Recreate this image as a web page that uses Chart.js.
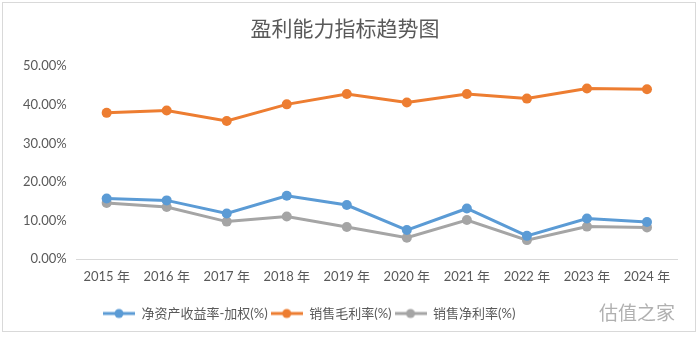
<!DOCTYPE html>
<html>
<head>
<meta charset="utf-8">
<script src="https://cdn.jsdelivr.net/npm/chart.js@4"></script>
<style>
  html, body { margin: 0; padding: 0; background: #fff; }
  .frame { position: absolute; left: 2px; top: 2px; width: 694px; height: 330px; border: 1px solid #d9d9d9; box-sizing: border-box; }
  .frame canvas { display: block; }
  .wm { position: absolute; left: 599px; top: 298px; font: 19px 'Noto Sans CJK SC'; color: rgba(150,150,150,0.75); }
</style>
</head>
<body>
<div class="frame"><canvas id="c" width="692" height="328"></canvas></div>
<div class="wm">估值之家</div>
<script>
const years = ['2015 年','2016 年','2017 年','2018 年','2019 年','2020 年','2021 年','2022 年','2023 年','2024 年'];
const roeWeighted = [15.7, 15.2, 11.8, 16.4, 14.0, 7.5, 13.1, 6.0, 10.5, 9.6];
const grossMargin = [37.9, 38.5, 35.8, 40.1, 42.8, 40.6, 42.8, 41.6, 44.2, 44.0];
const netMargin   = [14.5, 13.5, 9.7, 11.0, 8.3, 5.5, 10.1, 4.9, 8.4, 8.2];
const seriesNames = ['净资产收益率-加权(%)', '销售毛利率(%)', '销售净利率(%)'];
const colors = ['#5B9BD5', '#ED7D31', '#A5A5A5'];
const yTicks = [0, 10, 20, 30, 40, 50];

const FONT = "Lato, 'Noto Sans CJK SC', sans-serif";
const TXT = '#595959';

// legend glyph: short line with a dot, like the office style
function legendGlyph(color) {
  const cv = document.createElement('canvas');
  cv.width = 32; cv.height = 12;
  const g = cv.getContext('2d');
  g.strokeStyle = color; g.lineWidth = 3;
  g.beginPath(); g.moveTo(0, 6); g.lineTo(32, 6); g.stroke();
  g.fillStyle = color;
  g.beginPath(); g.arc(16, 6, 4.5, 0, Math.PI * 2); g.fill();
  return cv;
}

// nudge the legend row to the right, where the original sits
const legendShift = {
  id: 'legendShift',
  afterUpdate(chart) {
    chart.legend.left += 87;
    chart.legend.right += 87;
  }
};

const data = [roeWeighted, grossMargin, netMargin];

new Chart(document.getElementById('c'), {
  type: 'line',
  data: {
    labels: years,
    datasets: data.map((d, i) => ({
      label: seriesNames[i],
      data: d,
      borderColor: colors[i],
      backgroundColor: colors[i],
      borderWidth: 3,
      pointRadius: 5,
      pointHoverRadius: 5,
      pointBorderWidth: 0,
      tension: 0
    }))
  },
  plugins: [legendShift],
  options: {
    responsive: false,
    animation: false,
    layout: { padding: { left: 10, right: 18, top: 0, bottom: 1 } },
    plugins: {
      title: {
        display: true,
        text: '盈利能力指标趋势图',
        color: TXT,
        font: { family: "'Noto Sans CJK SC'", size: 21, weight: 'normal' },
        padding: { top: 12, bottom: 26 }
      },
      legend: {
        position: 'bottom',
        align: 'start',
        labels: {
          color: TXT,
          font: { family: FONT, size: 13 },
          usePointStyle: true,
          pointStyleWidth: 32,
          padding: 3,
          generateLabels: chart => chart.data.datasets.map((ds, i) => ({
            text: ds.label,
            fontColor: TXT,
            pointStyle: legendGlyph(colors[i]),
            datasetIndex: i,
            hidden: false,
            lineWidth: 0
          }))
        }
      },
      tooltip: { enabled: false }
    },
    scales: {
      x: {
        offset: true,
        afterFit: scale => { scale.height = 45; },
        grid: { display: false, drawTicks: false },
        border: { color: '#d9d9d9', width: 1 },
        ticks: { color: TXT, font: { family: FONT, size: 13 }, padding: 10 }
      },
      y: {
        min: 0,
        max: 50,
        afterBuildTicks: axis => { axis.ticks = yTicks.map(v => ({ value: v })); },
        grid: { display: false, drawTicks: false },
        border: { display: false },
        ticks: {
          color: TXT,
          font: { family: FONT, size: 13 },
          padding: 10,
          callback: v => v.toFixed(2) + '%'
        }
      }
    }
  }
});
</script>
</body>
</html>
